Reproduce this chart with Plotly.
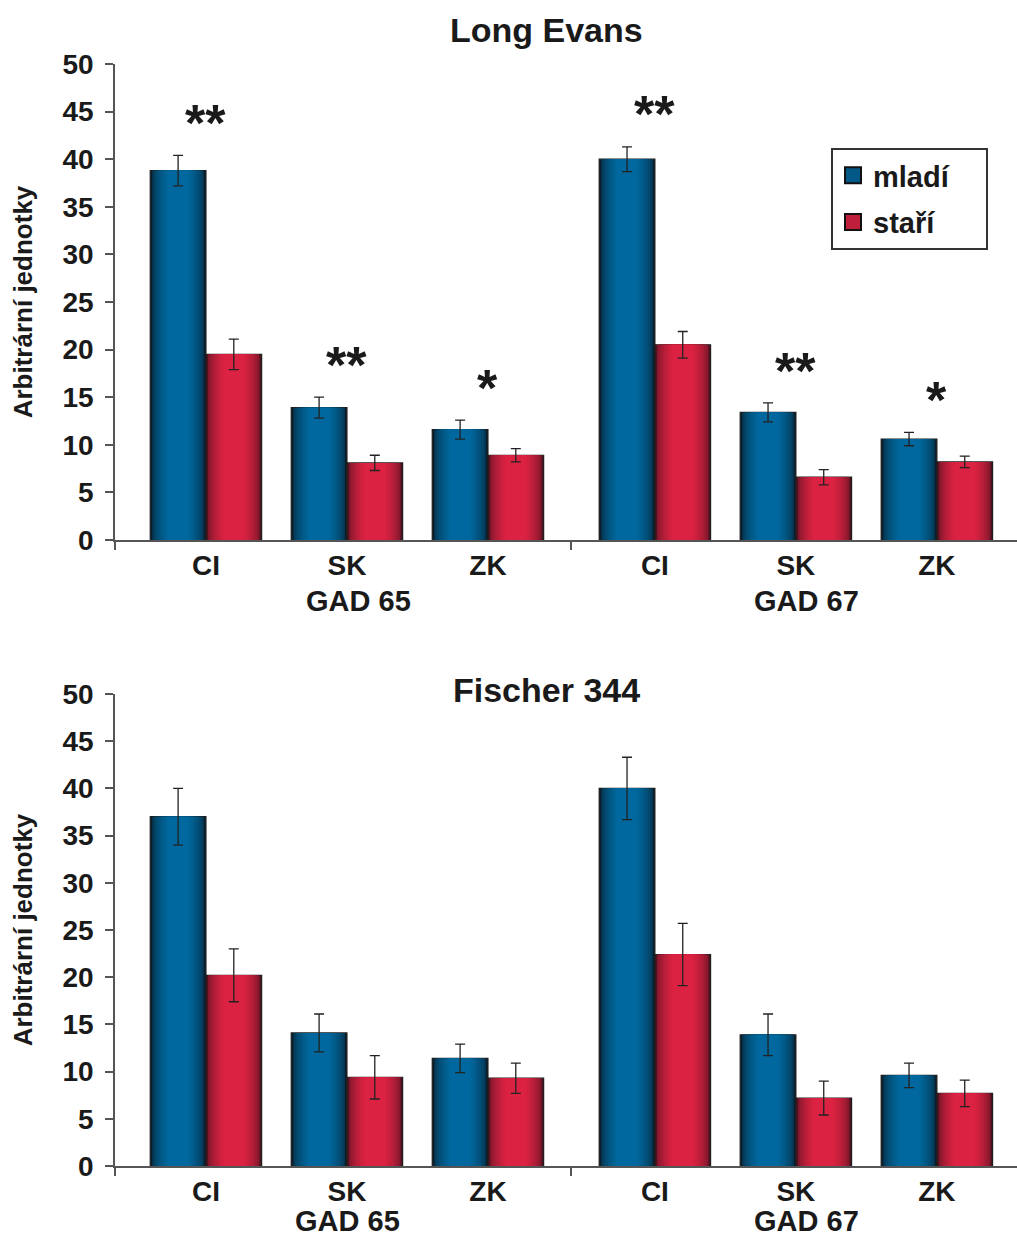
import plotly.graph_objects as go

# ---------------- data ----------------
categories = ["CI", "SK", "ZK"]
groups = ["GAD 65", "GAD 67"]
series_names = ["mladí", "staří"]

le_mladi = [38.8, 13.9, 11.6, 40.0, 13.4, 10.6]
le_mladi_err = [1.6, 1.1, 1.0, 1.3, 1.0, 0.7]
le_stari = [19.5, 8.1, 8.9, 20.5, 6.6, 8.2]
le_stari_err = [1.6, 0.8, 0.7, 1.4, 0.8, 0.6]

f_mladi = [37.0, 14.1, 11.4, 40.0, 13.9, 9.6]
f_mladi_err = [3.0, 2.0, 1.5, 3.3, 2.2, 1.3]
f_stari = [20.2, 9.4, 9.3, 22.4, 7.2, 7.7]
f_stari_err = [2.8, 2.3, 1.6, 3.3, 1.8, 1.4]

le_signif = ["**", "**", "*", "**", "**", "*"]

y_ticks = [0, 5, 10, 15, 20, 25, 30, 35, 40, 45, 50]

# ---------------- layout helpers ----------------
W, H = 1017, 1240
ML = 115
GROUP_GAP = 0.184
pos = [g * (len(categories) + GROUP_GAP) + c for g in range(len(groups)) for c in range(len(categories))]
boundary = (pos[2] + pos[3]) / 2
x_range = [-0.645, -0.645 + (W - ML) / 141.0]
BW = 0.395

FONT = "Liberation Sans, Arial, sans-serif"
TXT = "#1a1a1a"

palette = {
    "mladí": ((8, 30, 45), (0, 104, 158)),
    "staří": ((80, 18, 32), (220, 34, 66)),
}


def mix(c0, c1, t):
    return "rgb(%d,%d,%d)" % tuple(round(a + (b - a) * t) for a, b in zip(c0, c1))


fig = go.Figure()
LAYERS = 9


def add_series(xa, ya, vals, errs, name, base_off):
    dark, bright = palette[name]
    for k in range(LAYERS):
        frac = 1.0 - k * (0.62 / (LAYERS - 1))
        t = (k / (LAYERS - 1)) ** 0.45
        wi = BW * frac
        off = base_off + (BW - wi) / 2
        last = k == LAYERS - 1
        fig.add_trace(go.Bar(
            x=pos, y=vals, xaxis=xa, yaxis=ya,
            width=[wi] * len(pos), offset=[off] * len(pos),
            marker=dict(color=mix(dark, bright, t),
                        line=dict(color="#1e1e1e" if k == 0 else "rgba(0,0,0,0)",
                                  width=1.2 if k == 0 else 0)),
            error_y=dict(type="data", array=errs, visible=last, color="#222",
                         thickness=1.3, width=5),
            showlegend=False, hoverinfo="skip", name=name,
        ))


add_series("x", "y", le_mladi, le_mladi_err, "mladí", -BW)
add_series("x", "y", le_stari, le_stari_err, "staří", 0.0)
add_series("x2", "y2", f_mladi, f_mladi_err, "mladí", -BW)
add_series("x2", "y2", f_stari, f_stari_err, "staří", 0.0)

# legend entries
for nm in series_names:
    dark, bright = palette[nm]
    fig.add_trace(go.Scatter(
        x=[None], y=[None], mode="markers", name=nm + "\u00a0\u00a0\u00a0\u00a0", legendgroup=nm,
        marker=dict(symbol="square", size=18, color=mix(dark, bright, 0.8),
                    line=dict(color="#111", width=2)),
    ))

axis_common = dict(showgrid=False, zeroline=False, showline=True, automargin=False,
                   linecolor="#555", linewidth=1.5)

xa = dict(range=x_range, tickmode="array", tickvals=pos, ticktext=categories * 2,
          ticks="", tickfont=dict(family=FONT, size=28, color=TXT, weight="bold"),
          minor=dict(tickmode="array", tickvals=[x_range[0], boundary], ticks="outside",
                     ticklen=8, tickcolor="#555", tickwidth=1.5),
          fixedrange=True, **axis_common)
ya = dict(range=[0, 50], tickmode="array", tickvals=y_ticks, ticks="outside", ticklen=8,
          tickcolor="#555", tickwidth=1.5, ticklabelstandoff=6,
          tickfont=dict(family=FONT, size=28, color=TXT, weight="bold"),
          title=dict(text="Arbitrární jednotky", standoff=22,
                     font=dict(family=FONT, size=26, color=TXT, weight="bold")),
          **axis_common)

top_dom = [1 - 540 / H, 1 - 64 / H]
bot_dom = [1 - 1166 / H, 1 - 694 / H]

annotations = []
# titles
for txt, ypix in [("Long Evans", 30), ("Fischer 344", 690)]:
    annotations.append(dict(text=txt, xref="paper", yref="paper", x=(546 - ML) / (W - ML),
                            y=1 - ypix / H, xanchor="center", yanchor="middle", showarrow=False,
                            font=dict(family=FONT, size=34, color=TXT, weight="bold")))
# group labels
for (xr, ypix, shifts) in [("x", 601, [12, 11]), ("x2", 1221, [1, 11])]:
    for gi, g in enumerate(groups):
        annotations.append(dict(text=g, xref=xr, yref="paper", x=pos[gi * 3 + 1], xshift=shifts[gi],
                                y=1 - ypix / H, xanchor="center", yanchor="middle", showarrow=False,
                                font=dict(family=FONT, size=29, color=TXT, weight="bold")))
# significance marks
for i, s in enumerate(le_signif):
    annotations.append(dict(text=s, xref="x", yref="y", x=pos[i],
                            y=le_mladi[i] + le_mladi_err[i] + 3.4,
                            xanchor="center", yanchor="middle", showarrow=False,
                            font=dict(family=FONT, size=52, color=TXT, weight="bold")))

fig.update_layout(
    template="none",
    width=W, height=H,
    margin=dict(l=ML, r=0, t=0, b=0, autoexpand=False),
    paper_bgcolor="white", plot_bgcolor="white",
    barmode="overlay",
    xaxis=dict(domain=[0, 1], anchor="y", **xa),
    yaxis=dict(domain=top_dom, anchor="x", **ya),
    xaxis2=dict(domain=[0, 1], anchor="y2", **xa),
    yaxis2=dict(domain=bot_dom, anchor="x2", **ya),
    legend=dict(x=(831 - ML) / (W - ML), y=1 - 148 / H, xanchor="left", yanchor="top",
                bgcolor="white", bordercolor="#333", borderwidth=2,
                font=dict(family=FONT, size=29, color=TXT, weight="bold"),
                traceorder="grouped", tracegroupgap=6, itemsizing="trace"),
    annotations=annotations,
)

fig.write_html("out.html")
